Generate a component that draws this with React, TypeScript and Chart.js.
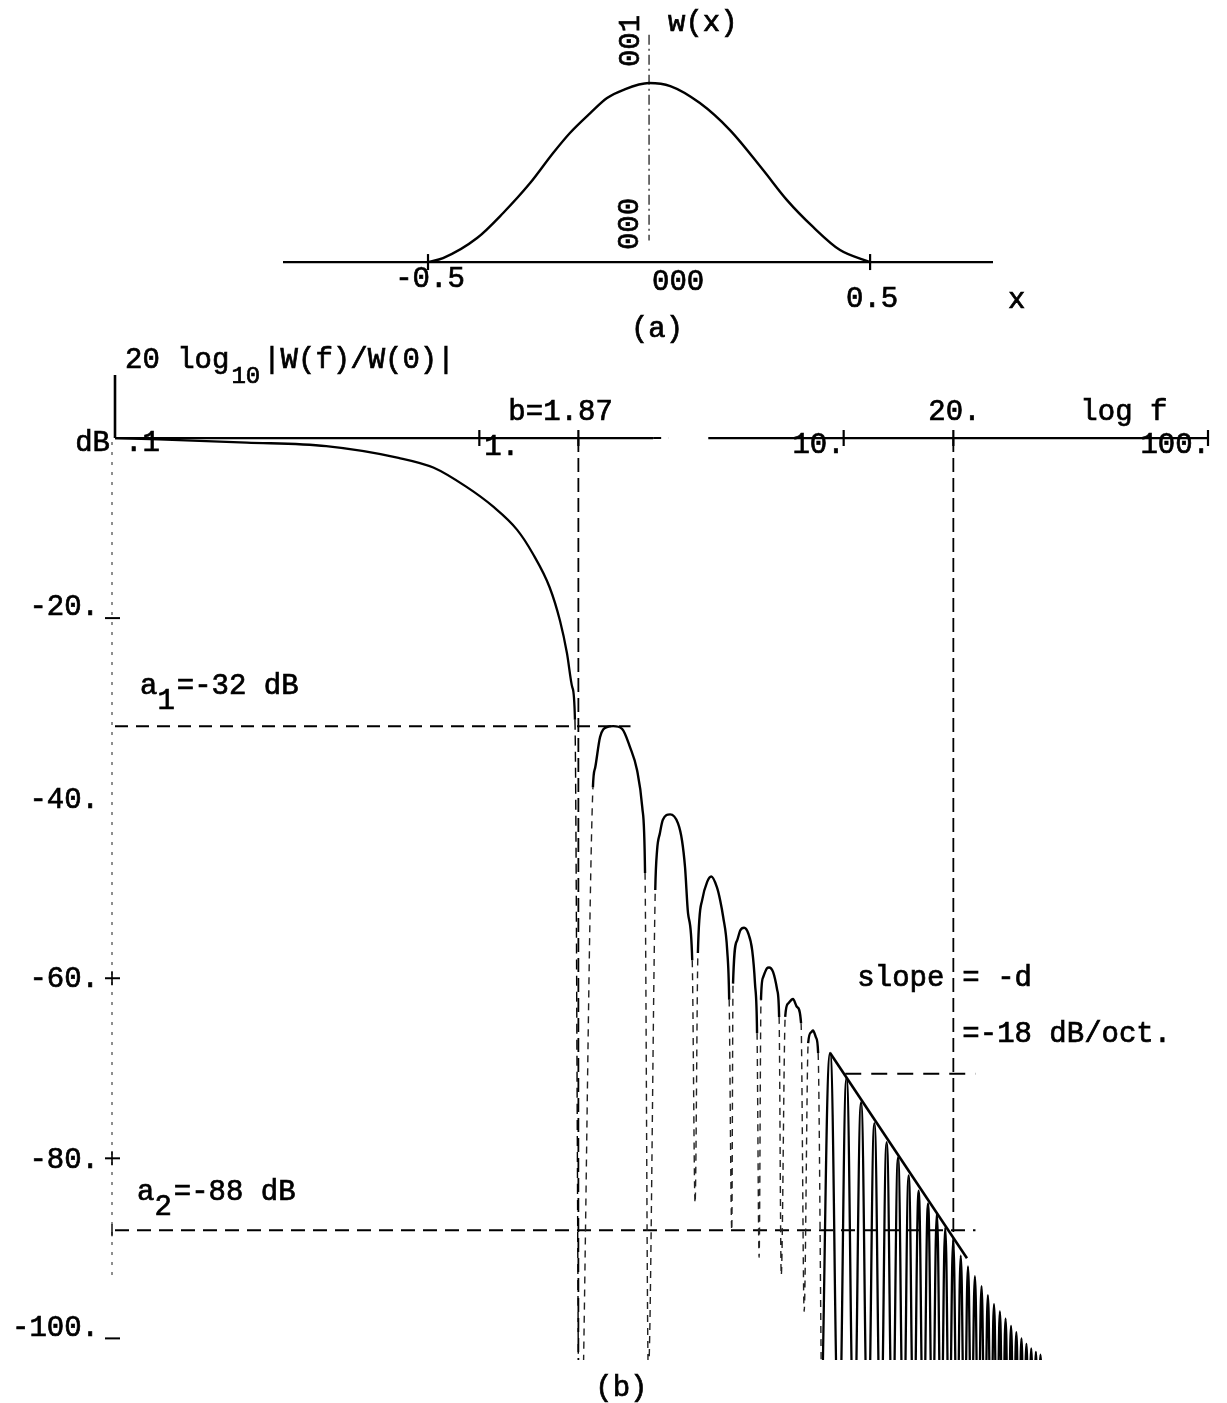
import React, { useEffect, useRef } from "react";
import { Chart, registerables } from "chart.js";

Chart.register(...registerables);

const PAGE_W = 1227;
const PAGE_H = 1403;
const FONT_FAMILY = '"Liberation Mono", "DejaVu Sans Mono", monospace';

// ---------------- panel (a): window function w(x) ----------------
const windowX = [-0.5, -0.466, -0.389, -0.33, -0.269, -0.217, -0.179, -0.133, -0.095, -0.059, 0, 0.048, 0.115, 0.183, 0.258, 0.312, 0.371, 0.432, 0.5];
const windowW = [0, 0.022, 0.134, 0.274, 0.441, 0.609, 0.721, 0.832, 0.916, 0.961, 1, 0.983, 0.888, 0.737, 0.514, 0.346, 0.196, 0.067, 0];
const axisARange = [-0.828, 0.778];
const axisATicks = [-0.5, 0.5];
const axisATickLabels = ["-0.5", "000", "0.5"];
const axisAYLabels = ["001", "000"];

// ---------------- panel (b): 20 log10 |W(f)/W(0)| ----------------
const NULL_DB = -104; // nulls fall below the frame
const FAR_NULL_DB = -112;
const mainLobeF = [0.1, 0.23, 0.38, 0.6, 0.75, 0.92, 1.09, 1.27, 1.4, 1.56, 1.665, 1.74, 1.8, 1.83, 1.87];
const mainLobeDb = [0, -0.5, -0.9, -2.2, -3.3, -5.4, -7.6, -10.2, -12.8, -16.6, -20.3, -23.9, -27.7, -31.3, NULL_DB];

// first seven side lobes, traced (solid part of each lobe)
const nearLobeF = [
  2.05, 2.08, 2.145, 2.24, 2.33, 2.465, 2.59, 2.71, 2.8, 2.85,
  3.04, 3.075, 3.13, 3.19, 3.34, 3.51, 3.6, 3.67, 3.74, 3.84,
  3.98, 4.09, 4.22, 4.33, 4.49, 4.58, 4.67, 4.79, 4.85,
  4.97, 5.1, 5.2, 5.33, 5.47, 5.61, 5.71, 5.785,
  5.93, 6.01, 6.16, 6.24, 6.4, 6.57, 6.65,
  6.91, 7.04, 7.26, 7.45, 7.64,
  7.99, 8.14, 8.24, 8.4, 8.51,
];
const nearLobeDb = [
  -38.8, -36.6, -33.2, -32.1, -32.0, -32.3, -34.3, -36.9, -41.0, -48.3,
  -50.2, -45.8, -43.9, -42.4, -41.8, -42.8, -44.7, -47.7, -52.8, -58.0,
  -57.2, -51.3, -49.3, -48.7, -49.9, -51.3, -53.2, -56.9, -62.4,
  -60.6, -55.8, -54.7, -54.4, -55.0, -56.9, -60.6, -66.1,
  -62.4, -59.9, -58.9, -58.8, -59.3, -61.3, -64.3,
  -64.3, -62.8, -62.3, -63.2, -65.0,
  -67.2, -66.0, -65.8, -66.6, -68.3,
];
// nulls between those lobes and how deep their faint traces reach
const nearNullF = [1.93, 2.91, 3.91, 4.93, 5.86, 6.74, 7.79, 8.68];
const nearNullDb = [NULL_DB, NULL_DB, -85, -88, -91, -93, -97, NULL_DB];

// higher side lobes: peak and following null
const farStartNullF = 8.68;
const farPeakF = [9.18, 10.18, 11.16, 12.14, 13.12, 14.1, 15.08, 16.06, 17.04, 18.02, 19.0, 19.98, 20.96, 21.94, 22.92, 23.9, 24.88, 25.86, 26.84, 27.82, 28.8, 29.78, 30.76, 31.74, 32.72, 33.7, 34.68];
const farPeakDb = [-68.3, -71.1, -73.8, -76.1, -78.2, -79.9, -81.9, -83.6, -85.0, -86.1, -87.7, -89.1, -90.8, -92.0, -93.1, -94.2, -95.2, -96.2, -97.0, -97.8, -98.6, -99.3, -100.0, -100.6, -101.1, -101.5, -101.8];
const farNullF = [9.69, 10.67, 11.65, 12.63, 13.61, 14.59, 15.57, 16.55, 17.53, 18.51, 19.49, 20.47, 21.45, 22.43, 23.41, 24.39, 25.37, 26.35, 27.33, 28.31, 29.29, 30.27, 31.25, 32.23, 33.21, 34.19, 35.17];

const bFreq = 1.87;
const f20 = 20;
const a1Db = -32;
const a2Db = -88;
const a1LineF = [0.1, 2.6];
const a2LineF = [0.1, 23];
const slopeRefF = [10.1, 23];
const slopeRefDb = -70.6;
const slopeLineF = [9.18, 21.8];
const slopeLineDb = [-68.3, -91.1];
const freqTicks = [1, 1.87, 10, 20, 100];
const freqTickLabels = [".1", "1.", "10.", "100."];
const dbTickValues = [-20, -40, -60, -80, -100];
const dbTickLabels = ["-20.", "-40.", "-60.", "-80.", "-100."];

const xy = (xs: number[], ys: number[]) => xs.map((x, i) => ({ x, y: ys[i] }));

function text(ctx: CanvasRenderingContext2D, s: string, x: number, y: number, align: CanvasTextAlign = "left", size = 29) {
  ctx.font = `${size}px ${FONT_FAMILY}`;
  ctx.textAlign = align;
  ctx.textBaseline = "alphabetic";
  ctx.fillStyle = "#000";
  ctx.strokeStyle = "#000";
  ctx.lineWidth = 0.7;
  ctx.setLineDash([]);
  ctx.fillText(s, x, y);
  ctx.strokeText(s, x, y);
}

function line(ctx: CanvasRenderingContext2D, x1: number, y1: number, x2: number, y2: number, w = 2, dash: number[] = [], color = "#000") {
  ctx.save();
  ctx.strokeStyle = color;
  ctx.lineWidth = w;
  ctx.setLineDash(dash);
  ctx.beginPath();
  ctx.moveTo(x1, y1);
  ctx.lineTo(x2, y2);
  ctx.stroke();
  ctx.restore();
}

const panelAPlugin = {
  id: "panelA",
  afterDatasetsDraw(chart: any) {
    const ctx: CanvasRenderingContext2D = chart.ctx;
    const xs = chart.scales.x;
    const ys = chart.scales.y;
    const px = (v: number) => xs.getPixelForValue(v);
    const py = (v: number) => ys.getPixelForValue(v);
    const y0 = py(0);
    ctx.save();
    axisATicks.forEach((t) => line(ctx, px(t), y0 - 8, px(t), y0 + 8, 2.2));
    text(ctx, axisATickLabels[0], px(-0.5) + 2, y0 + 25, "center");
    text(ctx, axisATickLabels[1], px(0) + 3, y0 + 28, "left");
    text(ctx, axisATickLabels[2], px(0.5) + 2, y0 + 45, "center");
    text(ctx, "x", px(0.778) + 15, y0 + 46, "left");
    text(ctx, "(a)", px(0) + 8, y0 + 75, "center");
    text(ctx, "w(x)", px(0) + 19, py(1) - 52, "left");
    const rot = (s: string, x: number, y: number) => {
      ctx.save();
      ctx.translate(x, y);
      ctx.rotate(-Math.PI / 2);
      text(ctx, s, 0, 0, "left");
      ctx.restore();
    };
    rot(axisAYLabels[0], px(0) - 10, py(1) - 16);
    rot(axisAYLabels[1], px(0) - 11, y0 - 12);
    ctx.restore();
  },
};

const panelBPlugin = {
  id: "panelB",
  beforeDraw(chart: any) {
    const ctx: CanvasRenderingContext2D = chart.ctx;
    ctx.save();
    ctx.fillStyle = "#fff";
    ctx.fillRect(0, 0, chart.width, chart.height);
    ctx.restore();
  },
  afterDatasetsDraw(chart: any) {
    const ctx: CanvasRenderingContext2D = chart.ctx;
    const xs = chart.scales.x;
    const ys = chart.scales.y;
    const px = (v: number) => xs.getPixelForValue(v);
    const py = (v: number) => ys.getPixelForValue(v);
    const y0 = py(0);
    const xa = px(0.1);
    ctx.save();
    // frequency axis with its gap
    line(ctx, xa, y0, px(3.0), y0, 2.2);
    line(ctx, px(3.0), y0, px(3.3), y0, 2, [8, 7]);
    line(ctx, px(4.25), y0, px(100), y0, 2.2);
    freqTicks.forEach((f) => line(ctx, px(f), y0 - 8, px(f), y0 + 8, 2.2));
    // dB axis: solid above 0 dB, dotted below
    line(ctx, xa, py(7), xa, y0, 2.6);
    line(ctx, xa - 3, y0 + 4, xa - 3, py(-93.5), 1.2, [3, 7], "#444");
    dbTickValues.forEach((v) => {
      if (v === -40) return;
      line(ctx, xa - 10, py(v), xa + 5, py(v), 2);
      if (v === -60 || v === -80) line(ctx, xa - 3, py(v) - 7, xa - 3, py(v) + 7, 1.6);
    });
    line(ctx, xa - 3, py(a2Db) - 6, xa - 3, py(a2Db) + 6, 1.4);
    const labelDy = [-3, 10, 9, 10, -2];
    dbTickValues.forEach((v, i) => text(ctx, dbTickLabels[i], xa - 16, py(v) + labelDy[i], "right"));
    // frequency labels
    text(ctx, "dB", xa - 5, y0 + 13, "right");
    text(ctx, freqTickLabels[0], xa + 10, y0 + 13, "left");
    text(ctx, freqTickLabels[1], px(1) + 5, y0 + 17, "left");
    text(ctx, freqTickLabels[2], px(10) + 1, y0 + 15, "right");
    text(ctx, freqTickLabels[3], px(100) + 2, y0 + 15, "right");
    text(ctx, "b=" + bFreq.toFixed(2), px(bFreq) - 70, y0 - 18, "left");
    text(ctx, f20 + ".", px(f20) - 25, y0 - 18, "left");
    text(ctx, "log f", px(f20) + 127, y0 - 18, "left");
    // title
    ctx.font = `29px ${FONT_FAMILY}`;
    const t1 = "20 log";
    const w1 = ctx.measureText(t1).width;
    text(ctx, t1, xa + 10, y0 - 70, "left");
    ctx.font = `24px ${FONT_FAMILY}`;
    const w2 = ctx.measureText("10").width;
    text(ctx, "10", xa + 10 + w1 + 2, y0 - 55, "left", 24);
    text(ctx, "|W(f)/W(0)|", xa + 10 + w1 + w2 + 5, y0 - 70, "left");
    // annotations
    const sub = (base: string, s: string, rest: string, x: number, y: number) => {
      ctx.font = `29px ${FONT_FAMILY}`;
      const cw = ctx.measureText("a").width;
      text(ctx, base, x, y, "left");
      text(ctx, s, x + cw, y + 15, "left");
      text(ctx, rest, x + 2 * cw + 2, y, "left");
    };
    sub("a", "1", "=" + a1Db + " dB", xa + 25, py(a1Db) - 32);
    sub("a", "2", "=" + a2Db + " dB", xa + 22, py(a2Db) - 30);
    text(ctx, "slope", px(f20) - 96, py(-60.5) + 3, "left");
    text(ctx, "= -d", px(f20) + 9, py(-60.5) + 3, "left");
    text(ctx, "=-18 dB/oct.", px(f20) + 9, py(-66.2) + 8, "left");
    text(ctx, "(b)", px(bFreq) + 43, py(-102.4) + 36, "center");
    ctx.restore();
  },
};

function buildNearLobes() {
  const pts = [...xy(nearLobeF, nearLobeDb), ...xy(nearNullF, nearNullDb)];
  pts.sort((a, b) => a.x - b.x);
  return pts;
}

function buildFarLobes() {
  const pts = [{ x: farStartNullF, y: FAR_NULL_DB }];
  farPeakF.forEach((f, i) => {
    pts.push({ x: f, y: farPeakDb[i] });
    pts.push({ x: farNullF[i], y: FAR_NULL_DB });
  });
  return pts;
}

const isNullX = (x: number) => nearNullF.indexOf(x) >= 0;
const isFaint = (c: any) => isNullX(c.p0.parsed.x) || isNullX(c.p1.parsed.x);

export default function App() {
  const refA = useRef<HTMLCanvasElement | null>(null);
  const refB = useRef<HTMLCanvasElement | null>(null);

  useEffect(() => {
    const refLine = (pts: { x: number; y: number }[], dash: number[], w = 2) => ({
      data: pts,
      showLine: true,
      borderColor: "#000",
      borderWidth: w,
      borderDash: dash,
      pointRadius: 0,
      tension: 0,
    });

    const chartB = new Chart(refB.current as HTMLCanvasElement, {
      type: "scatter",
      data: {
        datasets: [
          {
            data: xy(mainLobeF, mainLobeDb),
            showLine: true,
            borderColor: "#000",
            borderWidth: 2.3,
            pointRadius: 0,
            cubicInterpolationMode: "monotone",
            segment: {
              borderDash: (c: any) => (c.p1.parsed.y <= NULL_DB ? [10, 6] : undefined),
              borderWidth: (c: any) => (c.p1.parsed.y <= NULL_DB ? 1.4 : undefined),
            },
          } as any,
          {
            data: buildNearLobes(),
            showLine: true,
            borderColor: "#000",
            borderWidth: 2.4,
            pointRadius: 0,
            cubicInterpolationMode: "monotone",
            segment: {
              borderDash: (c: any) => (isFaint(c) ? [7, 6] : undefined),
              borderWidth: (c: any) => (isFaint(c) ? 1.4 : undefined),
              borderColor: (c: any) => (isFaint(c) ? "#222" : undefined),
            },
          } as any,
          {
            data: buildFarLobes(),
            showLine: true,
            borderColor: "#000",
            borderWidth: 2.3,
            pointRadius: 0,
            tension: 0.45,
          } as any,
          refLine([{ x: bFreq, y: 0 }, { x: bFreq, y: -102.4 }], [14, 6], 1.8),
          refLine([{ x: f20, y: 0 }, { x: f20, y: -90 }], [14, 6], 1.8),
          refLine(a1LineF.map((f) => ({ x: f, y: a1Db })), [13, 8], 2),
          refLine(a2LineF.map((f) => ({ x: f, y: a2Db })), [14, 8], 2),
          refLine(slopeRefF.map((f) => ({ x: f, y: slopeRefDb })), [16, 10], 2),
          refLine(xy(slopeLineF, slopeLineDb), [], 2.6),
        ],
      },
      options: {
        responsive: false,
        animation: false,
        devicePixelRatio: 1,
        events: [],
        layout: { padding: { left: 115, right: 19, top: 375, bottom: 43 } },
        plugins: { legend: { display: false }, tooltip: { enabled: false }, title: { display: false } },
        scales: {
          x: { type: "logarithmic", min: 0.1, max: 100, display: false },
          y: { type: "linear", min: -102.4, max: 7, display: false },
        },
      },
      plugins: [panelBPlugin],
    });

    const chartA = new Chart(refA.current as HTMLCanvasElement, {
      type: "scatter",
      data: {
        datasets: [
          {
            data: xy(windowX, windowW),
            showLine: true,
            borderColor: "#000",
            borderWidth: 2.4,
            pointRadius: 0,
            cubicInterpolationMode: "monotone",
          } as any,
          {
            data: axisARange.map((x) => ({ x, y: 0 })),
            showLine: true,
            borderColor: "#000",
            borderWidth: 2.2,
            pointRadius: 0,
          },
          {
            data: [{ x: 0, y: 1.27 }, { x: 0, y: 0.12 }],
            showLine: true,
            borderColor: "#222",
            borderWidth: 1.3,
            borderDash: [10, 4, 2, 4],
            pointRadius: 0,
          },
        ],
      },
      options: {
        responsive: false,
        animation: false,
        devicePixelRatio: 1,
        events: [],
        layout: { padding: { left: 283, right: PAGE_W - 993, top: 10, bottom: PAGE_H - 300 } },
        plugins: { legend: { display: false }, tooltip: { enabled: false }, title: { display: false } },
        scales: {
          x: { type: "linear", min: axisARange[0], max: axisARange[1], display: false },
          y: { type: "linear", min: -0.212, max: 1.408, display: false },
        },
      },
      plugins: [panelAPlugin],
    });

    return () => {
      chartA.destroy();
      chartB.destroy();
    };
  }, []);

  const canvasStyle: React.CSSProperties = { position: "absolute", left: 0, top: 0 };
  return (
    <div style={{ position: "absolute", left: 0, top: 0, width: PAGE_W, height: PAGE_H, background: "#fff" }}>
      <canvas ref={refB} width={PAGE_W} height={PAGE_H} style={canvasStyle} />
      <canvas ref={refA} width={PAGE_W} height={PAGE_H} style={canvasStyle} />
    </div>
  );
}
